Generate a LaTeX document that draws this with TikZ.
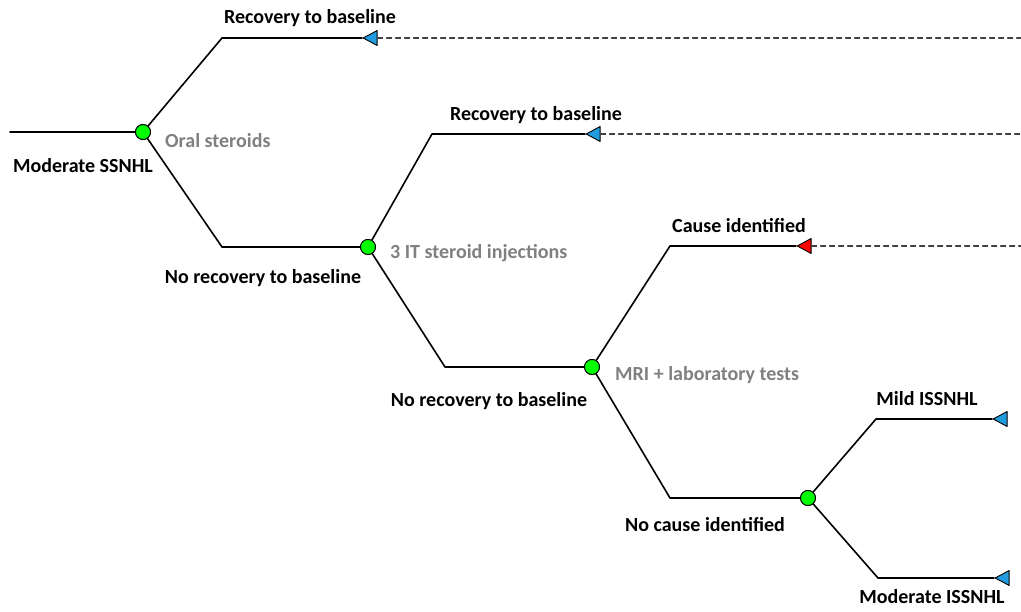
\documentclass[tikz,border=0pt]{standalone}
\usepackage{fontspec}
\setmainfont{Carlito}
\usetikzlibrary{calc,shapes.geometric}

\tikzset{
  chance/.style={circle,draw,fill=green,line width=0.9pt,minimum size=15pt,inner sep=0pt},
  endtri/.style={isosceles triangle,isosceles triangle stretches,shape border rotate=180,
    draw,line width=0.9pt,inner sep=0pt,minimum height=14pt,minimum width=15pt,anchor=apex,fill=#1},
  lab/.style={font=\bfseries\fontsize{20}{24}\selectfont,inner sep=0pt},
  act/.style={lab,text=black!50,anchor=west},
  branch/.style={line width=1.6pt},
  repeat/.style={line width=1.1pt,black!75,dash pattern=on 5pt off 4pt}
}

\begin{document}
\begin{tikzpicture}[x=1pt,y=-1pt,line join=round,line cap=round]
	\useasboundingbox (0,0) rectangle (1021,612);
	% Nhánh ngang và điểm quyết định
	\coordinate (S) at (10,132);
	\coordinate (A1) at (222,38);
	\coordinate (B1) at (222,247);
	\coordinate (A2) at (432,134);
	\coordinate (B2) at (445,367);
	\coordinate (A3) at (670,246);
	\coordinate (B3) at (670,498);
	\coordinate (A4) at (876,419);
	\coordinate (B4) at (878,578);
	\coordinate (R1) at (1021,38);
	\coordinate (R2) at (1021,134);
	\coordinate (R3) at (1021,246);
	% Các nút
	\node[chance] (N1) at (143,132) {};
	\node[chance] (N2) at (368,247) {};
	\node[chance] (N3) at (592,367) {};
	\node[chance] (N4) at (808,498) {};
	\node[endtri={cyan!80!blue!90}] (T1) at (362,38) {};
	\node[endtri={cyan!80!blue!90}] (T2) at (585,134) {};
	\node[endtri=red] (T3) at (796,246) {};
	\node[endtri={cyan!80!blue!90}] (T4) at (992,419) {};
	\node[endtri={cyan!80!blue!90}] (T5) at (994,578) {};
	% Đường nối
	\draw[branch] (S)--(N1.west);
	\draw[branch] (N1.center)--(A1)--(T1.apex);
	\draw[branch] (N1.center)--(B1)--(N2.west);
	\draw[branch] (N2.center)--(A2)--(T2.apex);
	\draw[branch] (N2.center)--(B2)--(N3.west);
	\draw[branch] (N3.center)--(A3)--(T3.apex);
	\draw[branch] (N3.center)--(B3)--(N4.west);
	\draw[branch] (N4.center)--(A4)--(T4.apex);
	\draw[branch] (N4.center)--(B4)--(T5.apex);
	\node[chance] at (N1) {};
	\node[chance] at (N2) {};
	\node[chance] at (N3) {};
	\node[chance] at (N4) {};
	\draw[repeat] (T1.east)--(R1);
	\draw[repeat] (T2.east)--(R2);
	\draw[repeat] (T3.east)--(R3);
	% Nhãn
	\node[lab] (L1) at (310,18) {Recovery to baseline};
	\node[act] (O1) at (165,141) {Oral steroids};
	\node[lab] (L0) at (83,166) {Moderate SSNHL};
	\node[lab] (L2) at (263,278) {No recovery to baseline};
	\node[lab] (L3) at (536,115) {Recovery to baseline};
	\node[act] (O2) at (390,253) {3 IT steroid injections};
	\node[lab] (L4) at (739,226) {Cause identified};
	\node[lab] (L5) at (489,401) {No recovery to baseline};
	\node[act] (O3) at (615,375) {MRI + laboratory tests};
	\node[lab] (L6) at (927,399) {Mild ISSNHL};
	\node[lab] (L7) at (705,525) {No cause identified};
	\node[lab] (L8) at (932,597) {Moderate ISSNHL};
\end{tikzpicture}
\end{document}
